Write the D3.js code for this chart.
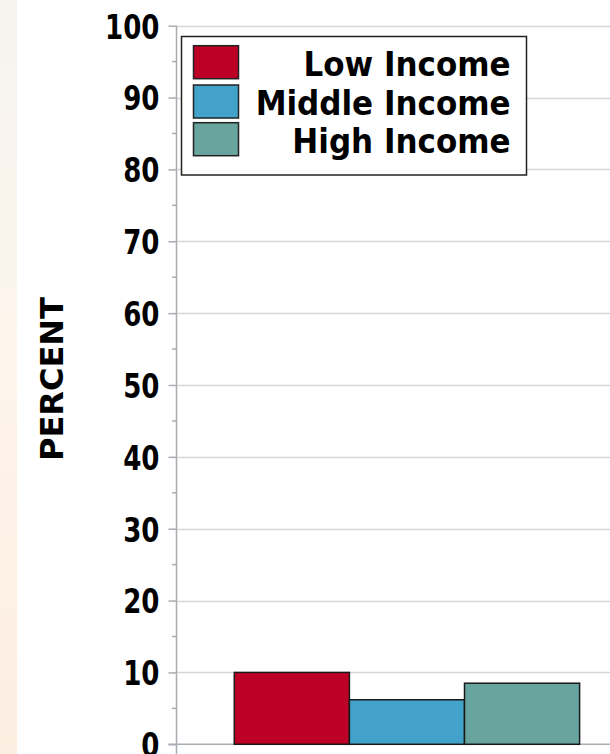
<!DOCTYPE html>
<html><head><meta charset="utf-8">
<script src="https://cdn.jsdelivr.net/npm/d3@7"></script>
<style>
html,body{margin:0;padding:0;background:#fff;}
svg{display:block;}
text{font-family:"DejaVu Sans",sans-serif;font-weight:bold;}
.cond{font-family:"DejaVu Sans Condensed","DejaVu Sans",sans-serif;font-stretch:condensed;}
</style></head>
<body>
<svg id="c" width="610" height="754"></svg>
<script>
const categories = ["Low Income", "Middle Income", "High Income"];
const values = [10.0, 6.2, 8.5];
const colors = ["#bd0026", "#43a2ca", "#67a59e"];
const yTicks = [0, 10, 20, 30, 40, 50, 60, 70, 80, 90, 100];
const yMinor = [5, 15, 25, 35, 45, 55, 65, 75, 85, 95];
const yTitle = "PERCENT";

const svg = d3.select("#c");
const W = 610, H = 754;

// left gradient strip
const defs = svg.append("defs");
const g = defs.append("linearGradient").attr("id","strip").attr("x1",0).attr("y1",0).attr("x2",0).attr("y2",1);
g.append("stop").attr("offset","0%").attr("stop-color","#f6f4ef");
g.append("stop").attr("offset","45%").attr("stop-color","#fdf5ec");
g.append("stop").attr("offset","100%").attr("stop-color","#fdede1");
svg.append("rect").attr("x",0).attr("y",0).attr("width",17).attr("height",H).attr("fill","url(#strip)");

const axisX = 176.5;
const y = d3.scaleLinear().domain([0,100]).range([744.3, 25.7]);
const x = d3.scaleBand().domain(categories).range([234.3, 579.6]).paddingInner(0).paddingOuter(0);

// gridlines
svg.append("g").selectAll("line").data(yTicks.filter(d=>d>0)).join("line")
  .attr("x1", axisX).attr("x2", W)
  .attr("y1", d=>Math.round(y(d))+0.5).attr("y2", d=>Math.round(y(d))+0.5)
  .attr("stroke","#d4d6d8").attr("stroke-width",1.5);

// axis
const axis = d3.axisLeft(y).tickValues(yTicks).tickSize(8).tickPadding(9).tickFormat(d3.format("d"));
const ax = svg.append("g").attr("transform",`translate(${axisX},0)`).call(axis);
ax.select(".domain").remove();
ax.selectAll(".tick line").attr("stroke","#a7adb2").attr("stroke-width",1.5);
ax.selectAll(".tick text").attr("class","cond").attr("fill","#000").style("font-size","29px")
  .attr("dy","0.36em").attr("transform","scale(1,1.18)");
svg.append("line").attr("x1",axisX).attr("x2",axisX).attr("y1",y(100)).attr("y2",H)
  .attr("stroke","#a7adb2").attr("stroke-width",1.5);
svg.append("g").selectAll("line").data(yMinor).join("line")
  .attr("x1", axisX-4.5).attr("x2", axisX)
  .attr("y1", d=>y(d)).attr("y2", d=>y(d))
  .attr("stroke","#a7adb2").attr("stroke-width",1.5);

// baseline
svg.append("line").attr("x1",axisX-8).attr("x2",W).attr("y1",y(0)).attr("y2",y(0))
  .attr("stroke","#a7adb2").attr("stroke-width",1.5);

// bars
svg.append("g").selectAll("rect").data(values).join("rect")
  .attr("x",(d,i)=>x(categories[i]))
  .attr("y",d=>y(d))
  .attr("width",x.bandwidth())
  .attr("height",d=>y(0)-y(d))
  .attr("fill",(d,i)=>colors[i])
  .attr("stroke","#1a1a1a").attr("stroke-width",1.5);

// y title
svg.append("text").attr("transform","translate(62.5,379) rotate(-90)")
  .attr("text-anchor","middle").style("font-size","32px").attr("fill","#000").text(yTitle);

// legend
const lg = svg.append("g");
lg.append("rect").attr("x",181.5).attr("y",36.5).attr("width",345).attr("height",138.5)
  .attr("fill","#fff").attr("stroke","#222").attr("stroke-width",1.5);
const rowY = [45.7, 85, 122.7];
lg.selectAll("rect.sw").data(categories).join("rect").attr("class","sw")
  .attr("x",193.5).attr("y",(d,i)=>rowY[i]).attr("width",45).attr("height",33)
  .attr("fill",(d,i)=>colors[i]).attr("stroke","#222").attr("stroke-width",1.5);
lg.selectAll("text").data(categories).join("text")
  .attr("transform",(d,i)=>`translate(510.5,${rowY[i]+29.8}) scale(1,1.06)`)
  .attr("text-anchor","end")
  .style("font-size","31px").attr("fill","#000").text(d=>d);
</script>
</body></html>
